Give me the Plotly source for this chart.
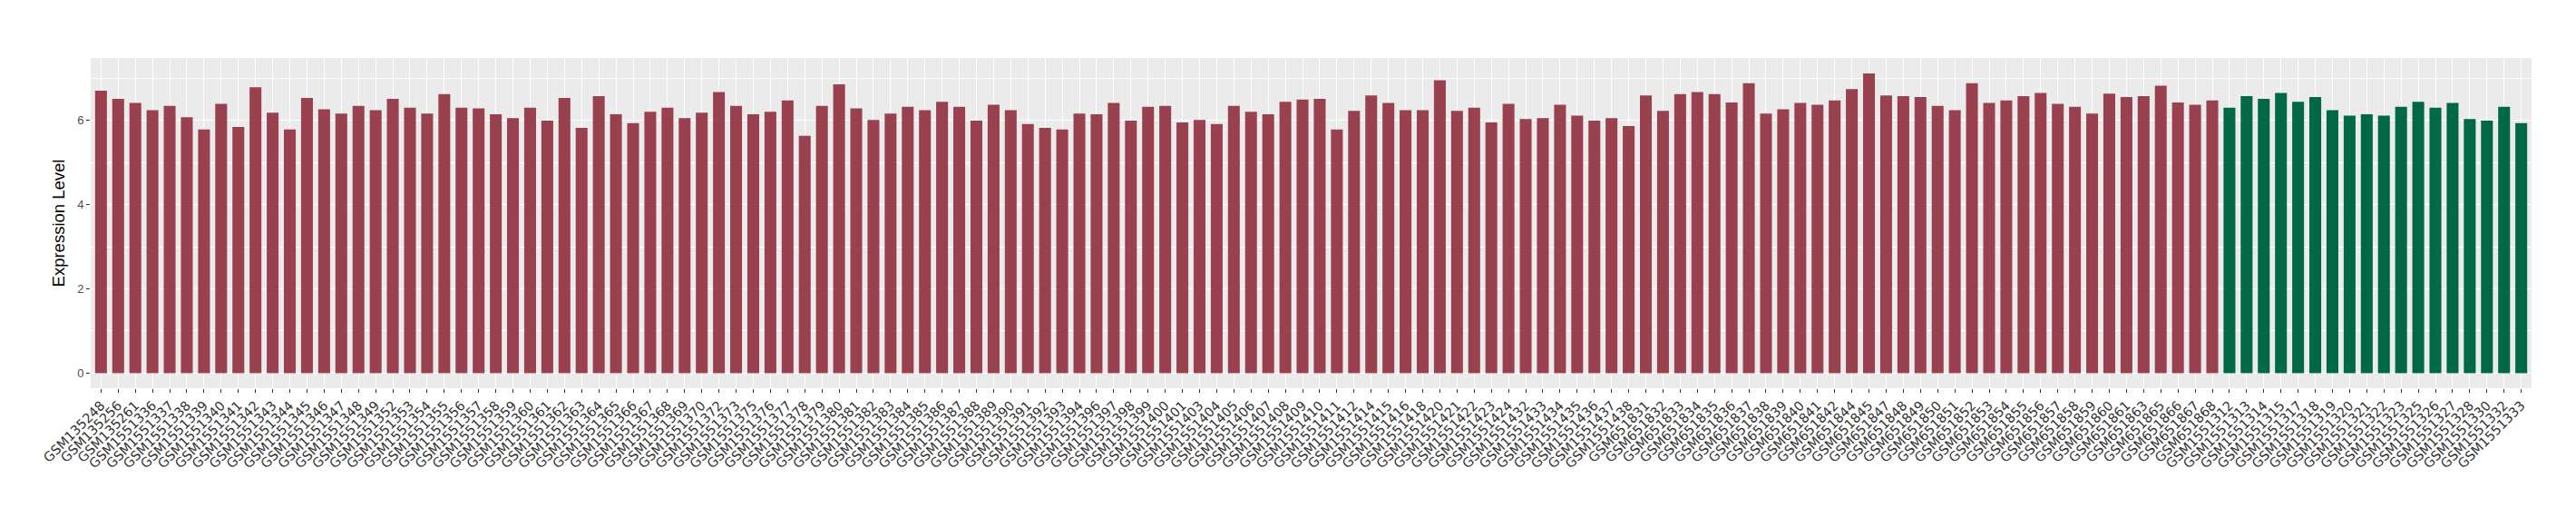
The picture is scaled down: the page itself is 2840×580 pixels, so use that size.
import plotly.graph_objects as go

# sample ids, in plot order
samples = [
    "GSM135248", "GSM135256", "GSM135261",
    "GSM1551336", "GSM1551337", "GSM1551338", "GSM1551339", "GSM1551340",
    "GSM1551341", "GSM1551342", "GSM1551343", "GSM1551344", "GSM1551345",
    "GSM1551346", "GSM1551347", "GSM1551348", "GSM1551349", "GSM1551352",
    "GSM1551353", "GSM1551354", "GSM1551355", "GSM1551356", "GSM1551357",
    "GSM1551358", "GSM1551359", "GSM1551360", "GSM1551361", "GSM1551362",
    "GSM1551363", "GSM1551364", "GSM1551365", "GSM1551366", "GSM1551367",
    "GSM1551368", "GSM1551369", "GSM1551370", "GSM1551372", "GSM1551373",
    "GSM1551375", "GSM1551376", "GSM1551377", "GSM1551378", "GSM1551379",
    "GSM1551380", "GSM1551381", "GSM1551382", "GSM1551383", "GSM1551384",
    "GSM1551385", "GSM1551386", "GSM1551387", "GSM1551388", "GSM1551389",
    "GSM1551390", "GSM1551391", "GSM1551392", "GSM1551393", "GSM1551394",
    "GSM1551396", "GSM1551397", "GSM1551398", "GSM1551399", "GSM1551400",
    "GSM1551401", "GSM1551403", "GSM1551404", "GSM1551405", "GSM1551406",
    "GSM1551407", "GSM1551408", "GSM1551409", "GSM1551410", "GSM1551411",
    "GSM1551412", "GSM1551414", "GSM1551415", "GSM1551416", "GSM1551418",
    "GSM1551420", "GSM1551421", "GSM1551422", "GSM1551423", "GSM1551424",
    "GSM1551432", "GSM1551433", "GSM1551434", "GSM1551435", "GSM1551436",
    "GSM1551437", "GSM1551438",
    "GSM651831", "GSM651832", "GSM651833", "GSM651834", "GSM651835",
    "GSM651836", "GSM651837", "GSM651838", "GSM651839", "GSM651840",
    "GSM651841", "GSM651842", "GSM651844", "GSM651845", "GSM651847",
    "GSM651848", "GSM651849", "GSM651850", "GSM651851", "GSM651852",
    "GSM651853", "GSM651854", "GSM651855", "GSM651856", "GSM651857",
    "GSM651858", "GSM651859", "GSM651860", "GSM651861", "GSM651863",
    "GSM651865", "GSM651866", "GSM651867", "GSM651868",
    "GSM1551312", "GSM1551313", "GSM1551314", "GSM1551315", "GSM1551317",
    "GSM1551318", "GSM1551319", "GSM1551320", "GSM1551321", "GSM1551322",
    "GSM1551323", "GSM1551325", "GSM1551326", "GSM1551327", "GSM1551328",
    "GSM1551330", "GSM1551332", "GSM1551333",
]

expression = [
    6.70, 6.51, 6.41,
    6.24, 6.34, 6.07, 5.78, 6.39,
    5.84, 6.78, 6.18, 5.78, 6.53,
    6.26, 6.16, 6.34, 6.24, 6.51,
    6.30, 6.16, 6.62, 6.30, 6.28,
    6.14, 6.05, 6.30, 5.99, 6.53,
    5.82, 6.57, 6.14, 5.93, 6.20,
    6.30, 6.05, 6.18, 6.67, 6.34,
    6.14, 6.20, 6.47, 5.63, 6.34,
    6.85, 6.28, 6.01, 6.16, 6.32,
    6.24, 6.44, 6.32, 5.99, 6.37,
    6.24, 5.91, 5.82, 5.78, 6.16,
    6.14, 6.41, 5.99, 6.32, 6.34,
    5.95, 6.01, 5.91, 6.34, 6.20,
    6.14, 6.44, 6.49, 6.51, 5.78,
    6.22, 6.59, 6.41, 6.24, 6.24,
    6.95, 6.22, 6.30, 5.95, 6.39,
    6.03, 6.05, 6.37, 6.11, 5.99,
    6.05, 5.86,
    6.59, 6.22, 6.62, 6.67, 6.62,
    6.42, 6.88, 6.16, 6.26, 6.41,
    6.37, 6.47, 6.74, 7.11, 6.59,
    6.57, 6.55, 6.34, 6.24, 6.88,
    6.41, 6.47, 6.57, 6.65, 6.39,
    6.32, 6.16, 6.63, 6.55, 6.57,
    6.82, 6.42, 6.37, 6.47,
    6.30, 6.57, 6.51, 6.65, 6.44,
    6.55, 6.24, 6.11, 6.14, 6.11,
    6.32, 6.44, 6.30, 6.41, 6.03,
    5.99, 6.32, 5.93,
]

n_tumor = 124
groups = ["tumor"] * n_tumor + ["normal"] * (len(samples) - n_tumor)
group_colors = {"tumor": "#9A4150", "normal": "#006845"}

fig = go.Figure()
fig.add_trace(go.Bar(
    x=samples,
    y=expression,
    marker=dict(color=[group_colors[g] for g in groups], line=dict(width=0)),
    showlegend=False,
))

fig.update_layout(
    width=2840,
    height=580,
    margin=dict(l=92, r=57, t=56, b=160),
    paper_bgcolor="white",
    plot_bgcolor="#EBEBEB",
    bargap=0.31,
    font=dict(family="Liberation Sans, Arial, sans-serif", color="#4D4D4D"),
)

fig.update_xaxes(
    type="category",
    range=[-0.6, len(samples) - 0.4],
    tickmode="array",
    tickvals=samples,
    ticktext=samples,
    tickangle=-45,
    tickfont=dict(family="DejaVu Sans", size=14.5, color="#333333"),
    ticks="outside",
    ticklen=4,
    tickwidth=1,
    tickcolor="#333333",
    showgrid=True,
    gridcolor="white",
    gridwidth=1.1,
    showline=False,
    zeroline=False,
)

fig.update_yaxes(
    range=[-0.356, 7.476],
    tickmode="array",
    tickvals=[0, 2, 4, 6],
    tickfont=dict(size=13, color="#4D4D4D"),
    ticks="outside",
    ticklen=4,
    tickwidth=1,
    tickcolor="#333333",
    showgrid=True,
    gridcolor="white",
    gridwidth=1.1,
    minor=dict(tickvals=[1, 3, 5, 7], showgrid=True, gridcolor="white", gridwidth=0.55, ticks=""),
    zeroline=False,
    showline=False,
    title=dict(text="Expression Level", font=dict(size=18.5, color="black"), standoff=8),
)

fig.write_html("out.html")
